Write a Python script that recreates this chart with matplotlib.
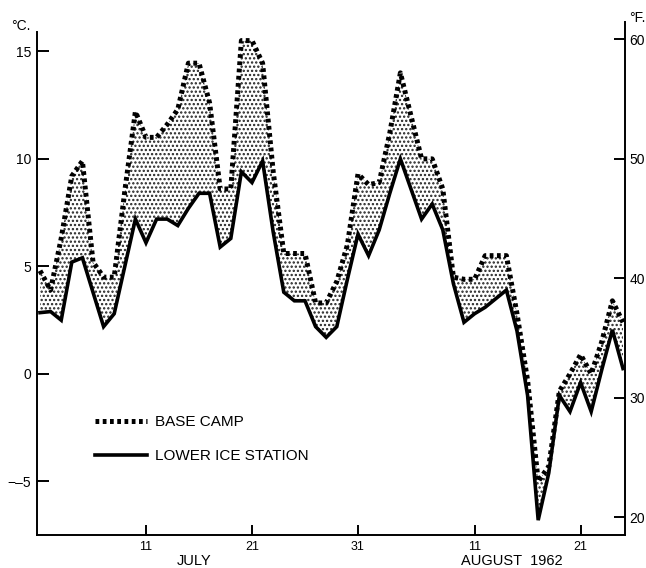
import matplotlib
matplotlib.use("Agg")
import matplotlib.pyplot as plt
from matplotlib.lines import Line2D

plt.rcParams['font.family'] = ['Liberation Sans', 'DejaVu Sans']
plt.rcParams['hatch.linewidth'] = 1.1

# day index: 1 = July 1 ... 56 = August 25 (1962)
days = list(range(1, 57))

base_camp = [4.8, 3.9, 6.3, 9.2, 9.9, 5.2, 4.5, 4.5, 8.5, 12.2,
             11.0, 11.0, 11.6, 12.3, 14.45, 14.45, 12.6, 8.6, 8.6, 15.5,
             15.5, 14.45, 9.4, 5.6, 5.6, 5.6, 3.3, 3.3, 4.3, 6.0,
             9.3, 8.8, 8.9, 11.2, 14.0, 12.0, 10.0, 10.0, 8.6, 4.5,
             4.4, 4.4, 5.5, 5.5, 5.5, 2.8, -0.3, -5.0, -4.3, -0.8,
             0.0, 0.9, 0.0, 1.5, 3.4, 2.4]

lower_ice = [2.85, 2.9, 2.5, 5.2, 5.4, 3.8, 2.2, 2.8, 5.0, 7.2,
             6.1, 7.2, 7.2, 6.9, 7.7, 8.4, 8.4, 5.9, 6.3, 9.4,
             8.9, 9.9, 6.6, 3.8, 3.4, 3.4, 2.2, 1.7, 2.2, 4.4,
             6.5, 5.5, 6.7, 8.4, 10.0, 8.6, 7.2, 7.9, 6.7, 4.2,
             2.4, 2.8, 3.1, 3.5, 3.9, 2.0, -1.0, -6.8, -4.6, -1.0,
             -1.75, -0.4, -1.75, 0.2, 2.05, 0.25]

x_ticks = [11, 21, 31, 42, 52]
x_tick_labels = ["11", "21", "31", "11", "21"]
c_ticks = [-5, 0, 5, 10, 15]
c_tick_labels = ["\u2212\u20135", "0", "5", "10", "15"]
f_ticks = [20, 30, 40, 50, 60]
f_tick_labels = ["20", "30", "40", "50", "60"]

W, H = 646, 568
fig = plt.figure(figsize=(W / 100, H / 100), dpi=100)

# axes pixel geometry
x0, x1 = 37, 625
y_bot, y_top = 535, 32
ax = fig.add_axes([x0 / W, (H - y_bot) / H, (x1 - x0) / W, (y_bot - y_top) / H])

c_lo, c_hi = -7.49, 15.9
ax.set_xlim(0.717, 56.19)
ax.set_ylim(c_lo, c_hi)

ax.fill_between(days, lower_ice, base_camp, facecolor='white',
                edgecolor='#222222', hatch='....', linewidth=0, zorder=1)
ax.plot(days, lower_ice, color='black', lw=2.6, solid_joinstyle='miter', zorder=3)
ax.plot(days, base_camp, color='black', lw=3.6, linestyle=(0, (0.75, 0.7)),
        dash_capstyle='butt', zorder=4)

for s in ['top', 'right']:
    ax.spines[s].set_visible(False)
for s in ['left', 'bottom']:
    ax.spines[s].set_linewidth(1.4)

ax.set_yticks(c_ticks)
ax.set_yticklabels(c_tick_labels)
ax.set_xticks(x_ticks)
ax.set_xticklabels(x_tick_labels)
ax.tick_params(axis='y', direction='in', length=8.5, width=1.4, pad=4, labelsize=10)
ax.tick_params(axis='x', direction='in', length=7, width=1.4, pad=4, labelsize=9)

# right (Fahrenheit) axis, extends a bit higher than the left axis
c_per_px = (c_hi - c_lo) / (y_bot - y_top)
y_top2 = 22
c_hi2 = c_hi + (y_top - y_top2) * c_per_px
ax2 = fig.add_axes([x0 / W, (H - y_bot) / H, (x1 - x0) / W, (y_bot - y_top2) / H])
ax2.patch.set_visible(False)
ax2.set_ylim(c_lo * 9 / 5 + 32, c_hi2 * 9 / 5 + 32)
ax2.set_xlim(ax.get_xlim())
for s in ['top', 'left', 'bottom']:
    ax2.spines[s].set_visible(False)
ax2.spines['right'].set_linewidth(1.4)
ax2.set_xticks([])
ax2.yaxis.tick_right()
ax2.set_yticks(f_ticks)
ax2.set_yticklabels(f_tick_labels)
ax2.tick_params(axis='y', direction='in', length=8, width=1.4, pad=3, labelsize=10)

# legend
handles = [Line2D([], [], color='black', lw=3.6, linestyle=(0, (0.75, 0.7)), dash_capstyle='butt'),
           Line2D([], [], color='black', lw=2.6)]
leg = ax.legend(handles, ['BASE CAMP', 'LOWER ICE STATION'], loc='upper left',
                bbox_to_anchor=((95 - x0) / (x1 - x0), (y_bot - 415) / (y_bot - y_top)),
                frameon=False, fontsize=11, handlelength=3.4, handletextpad=0.5,
                labelspacing=1.3, borderpad=0, borderaxespad=0)

# unit labels and month labels
fig.text(21 / W, 1 - 26 / H, '°C.', ha='center', va='center', fontsize=10)
fig.text(637 / W, 1 - 18 / H, '°F.', ha='center', va='center', fontsize=10)
fig.text(194 / W, 1 - 561 / H, 'JULY', ha='center', va='center', fontsize=10.5)
fig.text(512 / W, 1 - 561 / H, 'AUGUST  1962', ha='center', va='center', fontsize=10.5)

fig.savefig('out.png', dpi=100)
